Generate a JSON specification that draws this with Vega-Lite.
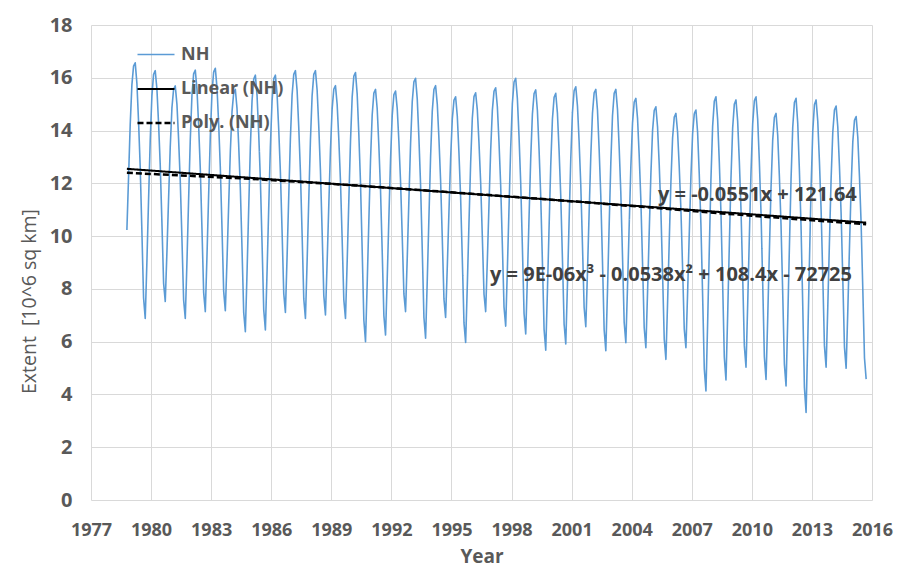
{
  "$schema": "https://vega.github.io/schema/vega-lite/v6.json",
  "width": 781,
  "height": 475,
  "autosize": {"type": "none"},
  "padding": {"left": 91, "top": 25, "right": 32, "bottom": 69},
  "background": "white",
  "config": {
    "view": {"stroke": null},
    "font": "Open Sans",
    "axis": {
      "gridColor": "#d9d9d9",
      "gridWidth": 1,
      "domain": false,
      "ticks": false,
      "labelFont": "Open Sans",
      "labelFontWeight": "bold",
      "labelColor": "#595959",
      "titleFont": "Open Sans",
      "titleColor": "#595959"
    }
  },
  "layer": [
    {
      "data": {
        "values": [
          {"s":"NH","t":1978.792,"v":10.23},{"s":"NH","t":1978.875,"v":12.22},{"s":"NH","t":1978.958,"v":14.23},
          {"s":"NH","t":1979.042,"v":15.73},{"s":"NH","t":1979.125,"v":16.44},{"s":"NH","t":1979.208,"v":16.57},{"s":"NH","t":1979.292,"v":15.79},{"s":"NH","t":1979.375,"v":14.34},{"s":"NH","t":1979.458,"v":12.60},{"s":"NH","t":1979.542,"v":10.17},{"s":"NH","t":1979.625,"v":7.66},{"s":"NH","t":1979.708,"v":6.88},{"s":"NH","t":1979.792,"v":9.04},{"s":"NH","t":1979.875,"v":11.39},{"s":"NH","t":1979.958,"v":13.64},
          {"s":"NH","t":1980.042,"v":15.33},{"s":"NH","t":1980.125,"v":16.13},{"s":"NH","t":1980.208,"v":16.27},{"s":"NH","t":1980.292,"v":15.57},{"s":"NH","t":1980.375,"v":14.26},{"s":"NH","t":1980.458,"v":12.68},{"s":"NH","t":1980.542,"v":10.50},{"s":"NH","t":1980.625,"v":8.22},{"s":"NH","t":1980.708,"v":7.52},{"s":"NH","t":1980.792,"v":9.40},{"s":"NH","t":1980.875,"v":11.44},{"s":"NH","t":1980.958,"v":13.40},
          {"s":"NH","t":1981.042,"v":14.87},{"s":"NH","t":1981.125,"v":15.57},{"s":"NH","t":1981.208,"v":15.69},{"s":"NH","t":1981.292,"v":14.99},{"s":"NH","t":1981.375,"v":13.66},{"s":"NH","t":1981.458,"v":12.08},{"s":"NH","t":1981.542,"v":9.88},{"s":"NH","t":1981.625,"v":7.58},{"s":"NH","t":1981.708,"v":6.88},{"s":"NH","t":1981.792,"v":9.04},{"s":"NH","t":1981.875,"v":11.40},{"s":"NH","t":1981.958,"v":13.66},
          {"s":"NH","t":1982.042,"v":15.35},{"s":"NH","t":1982.125,"v":16.15},{"s":"NH","t":1982.208,"v":16.29},{"s":"NH","t":1982.292,"v":15.56},{"s":"NH","t":1982.375,"v":14.19},{"s":"NH","t":1982.458,"v":12.54},{"s":"NH","t":1982.542,"v":10.25},{"s":"NH","t":1982.625,"v":7.87},{"s":"NH","t":1982.708,"v":7.14},{"s":"NH","t":1982.792,"v":9.26},{"s":"NH","t":1982.875,"v":11.57},{"s":"NH","t":1982.958,"v":13.78},
          {"s":"NH","t":1983.042,"v":15.44},{"s":"NH","t":1983.125,"v":16.22},{"s":"NH","t":1983.208,"v":16.36},{"s":"NH","t":1983.292,"v":15.62},{"s":"NH","t":1983.375,"v":14.25},{"s":"NH","t":1983.458,"v":12.59},{"s":"NH","t":1983.542,"v":10.29},{"s":"NH","t":1983.625,"v":7.91},{"s":"NH","t":1983.708,"v":7.17},{"s":"NH","t":1983.792,"v":9.10},{"s":"NH","t":1983.875,"v":11.20},{"s":"NH","t":1983.958,"v":13.21},
          {"s":"NH","t":1984.042,"v":14.72},{"s":"NH","t":1984.125,"v":15.43},{"s":"NH","t":1984.208,"v":15.56},{"s":"NH","t":1984.292,"v":14.83},{"s":"NH","t":1984.375,"v":13.45},{"s":"NH","t":1984.458,"v":11.80},{"s":"NH","t":1984.542,"v":9.50},{"s":"NH","t":1984.625,"v":7.11},{"s":"NH","t":1984.708,"v":6.38},{"s":"NH","t":1984.792,"v":8.62},{"s":"NH","t":1984.875,"v":11.05},{"s":"NH","t":1984.958,"v":13.38},
          {"s":"NH","t":1985.042,"v":15.13},{"s":"NH","t":1985.125,"v":15.95},{"s":"NH","t":1985.208,"v":16.10},{"s":"NH","t":1985.292,"v":15.33},{"s":"NH","t":1985.375,"v":13.88},{"s":"NH","t":1985.458,"v":12.14},{"s":"NH","t":1985.542,"v":9.72},{"s":"NH","t":1985.625,"v":7.21},{"s":"NH","t":1985.708,"v":6.44},{"s":"NH","t":1985.792,"v":8.66},{"s":"NH","t":1985.875,"v":11.08},{"s":"NH","t":1985.958,"v":13.40},
          {"s":"NH","t":1986.042,"v":15.13},{"s":"NH","t":1986.125,"v":15.96},{"s":"NH","t":1986.208,"v":16.10},{"s":"NH","t":1986.292,"v":15.38},{"s":"NH","t":1986.375,"v":14.03},{"s":"NH","t":1986.458,"v":12.41},{"s":"NH","t":1986.542,"v":10.17},{"s":"NH","t":1986.625,"v":7.83},{"s":"NH","t":1986.708,"v":7.11},{"s":"NH","t":1986.792,"v":9.22},{"s":"NH","t":1986.875,"v":11.51},{"s":"NH","t":1986.958,"v":13.71},
          {"s":"NH","t":1987.042,"v":15.35},{"s":"NH","t":1987.125,"v":16.13},{"s":"NH","t":1987.208,"v":16.27},{"s":"NH","t":1987.292,"v":15.52},{"s":"NH","t":1987.375,"v":14.11},{"s":"NH","t":1987.458,"v":12.42},{"s":"NH","t":1987.542,"v":10.07},{"s":"NH","t":1987.625,"v":7.63},{"s":"NH","t":1987.708,"v":6.88},{"s":"NH","t":1987.792,"v":9.04},{"s":"NH","t":1987.875,"v":11.39},{"s":"NH","t":1987.958,"v":13.64},
          {"s":"NH","t":1988.042,"v":15.33},{"s":"NH","t":1988.125,"v":16.13},{"s":"NH","t":1988.208,"v":16.27},{"s":"NH","t":1988.292,"v":15.53},{"s":"NH","t":1988.375,"v":14.14},{"s":"NH","t":1988.458,"v":12.47},{"s":"NH","t":1988.542,"v":10.16},{"s":"NH","t":1988.625,"v":7.75},{"s":"NH","t":1988.708,"v":7.01},{"s":"NH","t":1988.792,"v":9.01},{"s":"NH","t":1988.875,"v":11.18},{"s":"NH","t":1988.958,"v":13.27},
          {"s":"NH","t":1989.042,"v":14.83},{"s":"NH","t":1989.125,"v":15.57},{"s":"NH","t":1989.208,"v":15.70},{"s":"NH","t":1989.292,"v":14.99},{"s":"NH","t":1989.375,"v":13.67},{"s":"NH","t":1989.458,"v":12.08},{"s":"NH","t":1989.542,"v":9.88},{"s":"NH","t":1989.625,"v":7.59},{"s":"NH","t":1989.708,"v":6.88},{"s":"NH","t":1989.792,"v":9.02},{"s":"NH","t":1989.875,"v":11.35},{"s":"NH","t":1989.958,"v":13.59},
          {"s":"NH","t":1990.042,"v":15.27},{"s":"NH","t":1990.125,"v":16.06},{"s":"NH","t":1990.208,"v":16.20},{"s":"NH","t":1990.292,"v":15.38},{"s":"NH","t":1990.375,"v":13.85},{"s":"NH","t":1990.458,"v":12.02},{"s":"NH","t":1990.542,"v":9.47},{"s":"NH","t":1990.625,"v":6.82},{"s":"NH","t":1990.708,"v":6.00},{"s":"NH","t":1990.792,"v":8.20},{"s":"NH","t":1990.875,"v":10.59},{"s":"NH","t":1990.958,"v":12.88},
          {"s":"NH","t":1991.042,"v":14.60},{"s":"NH","t":1991.125,"v":15.42},{"s":"NH","t":1991.208,"v":15.56},{"s":"NH","t":1991.292,"v":14.82},{"s":"NH","t":1991.375,"v":13.42},{"s":"NH","t":1991.458,"v":11.74},{"s":"NH","t":1991.542,"v":9.42},{"s":"NH","t":1991.625,"v":6.99},{"s":"NH","t":1991.708,"v":6.25},{"s":"NH","t":1991.792,"v":8.38},{"s":"NH","t":1991.875,"v":10.69},{"s":"NH","t":1991.958,"v":12.91},
          {"s":"NH","t":1992.042,"v":14.58},{"s":"NH","t":1992.125,"v":15.36},{"s":"NH","t":1992.208,"v":15.50},{"s":"NH","t":1992.292,"v":14.83},{"s":"NH","t":1992.375,"v":13.58},{"s":"NH","t":1992.458,"v":12.07},{"s":"NH","t":1992.542,"v":9.98},{"s":"NH","t":1992.625,"v":7.81},{"s":"NH","t":1992.708,"v":7.14},{"s":"NH","t":1992.792,"v":9.17},{"s":"NH","t":1992.875,"v":11.38},{"s":"NH","t":1992.958,"v":13.50},
          {"s":"NH","t":1993.042,"v":15.10},{"s":"NH","t":1993.125,"v":15.85},{"s":"NH","t":1993.208,"v":15.98},{"s":"NH","t":1993.292,"v":15.19},{"s":"NH","t":1993.375,"v":13.71},{"s":"NH","t":1993.458,"v":11.94},{"s":"NH","t":1993.542,"v":9.48},{"s":"NH","t":1993.625,"v":6.92},{"s":"NH","t":1993.708,"v":6.13},{"s":"NH","t":1993.792,"v":8.33},{"s":"NH","t":1993.875,"v":10.72},{"s":"NH","t":1993.958,"v":13.02},
          {"s":"NH","t":1994.042,"v":14.74},{"s":"NH","t":1994.125,"v":15.56},{"s":"NH","t":1994.208,"v":15.70},{"s":"NH","t":1994.292,"v":15.00},{"s":"NH","t":1994.375,"v":13.68},{"s":"NH","t":1994.458,"v":12.10},{"s":"NH","t":1994.542,"v":9.91},{"s":"NH","t":1994.625,"v":7.62},{"s":"NH","t":1994.708,"v":6.92},{"s":"NH","t":1994.792,"v":8.84},{"s":"NH","t":1994.875,"v":10.93},{"s":"NH","t":1994.958,"v":12.94},
          {"s":"NH","t":1995.042,"v":14.44},{"s":"NH","t":1995.125,"v":15.15},{"s":"NH","t":1995.208,"v":15.28},{"s":"NH","t":1995.292,"v":14.54},{"s":"NH","t":1995.375,"v":13.14},{"s":"NH","t":1995.458,"v":11.46},{"s":"NH","t":1995.542,"v":9.14},{"s":"NH","t":1995.625,"v":6.71},{"s":"NH","t":1995.708,"v":5.97},{"s":"NH","t":1995.792,"v":8.15},{"s":"NH","t":1995.875,"v":10.51},{"s":"NH","t":1995.958,"v":12.78},
          {"s":"NH","t":1996.042,"v":14.48},{"s":"NH","t":1996.125,"v":15.29},{"s":"NH","t":1996.208,"v":15.43},{"s":"NH","t":1996.292,"v":14.77},{"s":"NH","t":1996.375,"v":13.52},{"s":"NH","t":1996.458,"v":12.03},{"s":"NH","t":1996.542,"v":9.96},{"s":"NH","t":1996.625,"v":7.80},{"s":"NH","t":1996.708,"v":7.14},{"s":"NH","t":1996.792,"v":9.09},{"s":"NH","t":1996.875,"v":11.21},{"s":"NH","t":1996.958,"v":13.25},
          {"s":"NH","t":1997.042,"v":14.77},{"s":"NH","t":1997.125,"v":15.49},{"s":"NH","t":1997.208,"v":15.62},{"s":"NH","t":1997.292,"v":14.90},{"s":"NH","t":1997.375,"v":13.54},{"s":"NH","t":1997.458,"v":11.92},{"s":"NH","t":1997.542,"v":9.66},{"s":"NH","t":1997.625,"v":7.31},{"s":"NH","t":1997.708,"v":6.59},{"s":"NH","t":1997.792,"v":8.75},{"s":"NH","t":1997.875,"v":11.10},{"s":"NH","t":1997.958,"v":13.35},
          {"s":"NH","t":1998.042,"v":15.04},{"s":"NH","t":1998.125,"v":15.84},{"s":"NH","t":1998.208,"v":15.98},{"s":"NH","t":1998.292,"v":15.20},{"s":"NH","t":1998.375,"v":13.75},{"s":"NH","t":1998.458,"v":12.01},{"s":"NH","t":1998.542,"v":9.58},{"s":"NH","t":1998.625,"v":7.07},{"s":"NH","t":1998.708,"v":6.29},{"s":"NH","t":1998.792,"v":8.42},{"s":"NH","t":1998.875,"v":10.73},{"s":"NH","t":1998.958,"v":12.95},
          {"s":"NH","t":1999.042,"v":14.62},{"s":"NH","t":1999.125,"v":15.40},{"s":"NH","t":1999.208,"v":15.54},{"s":"NH","t":1999.292,"v":14.75},{"s":"NH","t":1999.375,"v":13.27},{"s":"NH","t":1999.458,"v":11.50},{"s":"NH","t":1999.542,"v":9.03},{"s":"NH","t":1999.625,"v":6.47},{"s":"NH","t":1999.708,"v":5.68},{"s":"NH","t":1999.792,"v":7.92},{"s":"NH","t":1999.875,"v":10.35},{"s":"NH","t":1999.958,"v":12.69},
          {"s":"NH","t":2000.042,"v":14.44},{"s":"NH","t":2000.125,"v":15.26},{"s":"NH","t":2000.208,"v":15.41},{"s":"NH","t":2000.292,"v":14.65},{"s":"NH","t":2000.375,"v":13.23},{"s":"NH","t":2000.458,"v":11.52},{"s":"NH","t":2000.542,"v":9.14},{"s":"NH","t":2000.625,"v":6.67},{"s":"NH","t":2000.708,"v":5.91},{"s":"NH","t":2000.792,"v":8.15},{"s":"NH","t":2000.875,"v":10.59},{"s":"NH","t":2000.958,"v":12.93},
          {"s":"NH","t":2001.042,"v":14.69},{"s":"NH","t":2001.125,"v":15.51},{"s":"NH","t":2001.208,"v":15.66},{"s":"NH","t":2001.292,"v":14.93},{"s":"NH","t":2001.375,"v":13.57},{"s":"NH","t":2001.458,"v":11.93},{"s":"NH","t":2001.542,"v":9.66},{"s":"NH","t":2001.625,"v":7.30},{"s":"NH","t":2001.708,"v":6.57},{"s":"NH","t":2001.792,"v":8.64},{"s":"NH","t":2001.875,"v":10.89},{"s":"NH","t":2001.958,"v":13.04},
          {"s":"NH","t":2002.042,"v":14.66},{"s":"NH","t":2002.125,"v":15.43},{"s":"NH","t":2002.208,"v":15.56},{"s":"NH","t":2002.292,"v":14.77},{"s":"NH","t":2002.375,"v":13.28},{"s":"NH","t":2002.458,"v":11.50},{"s":"NH","t":2002.542,"v":9.03},{"s":"NH","t":2002.625,"v":6.45},{"s":"NH","t":2002.708,"v":5.66},{"s":"NH","t":2002.792,"v":7.94},{"s":"NH","t":2002.875,"v":10.41},{"s":"NH","t":2002.958,"v":12.79},
          {"s":"NH","t":2003.042,"v":14.57},{"s":"NH","t":2003.125,"v":15.41},{"s":"NH","t":2003.208,"v":15.56},{"s":"NH","t":2003.292,"v":14.79},{"s":"NH","t":2003.375,"v":13.35},{"s":"NH","t":2003.458,"v":11.62},{"s":"NH","t":2003.542,"v":9.22},{"s":"NH","t":2003.625,"v":6.73},{"s":"NH","t":2003.708,"v":5.96},{"s":"NH","t":2003.792,"v":8.09},{"s":"NH","t":2003.875,"v":10.40},{"s":"NH","t":2003.958,"v":12.63},
          {"s":"NH","t":2004.042,"v":14.29},{"s":"NH","t":2004.125,"v":15.08},{"s":"NH","t":2004.208,"v":15.22},{"s":"NH","t":2004.292,"v":14.46},{"s":"NH","t":2004.375,"v":13.05},{"s":"NH","t":2004.458,"v":11.35},{"s":"NH","t":2004.542,"v":8.98},{"s":"NH","t":2004.625,"v":6.53},{"s":"NH","t":2004.708,"v":5.77},{"s":"NH","t":2004.792,"v":7.87},{"s":"NH","t":2004.875,"v":10.15},{"s":"NH","t":2004.958,"v":12.34},
          {"s":"NH","t":2005.042,"v":13.99},{"s":"NH","t":2005.125,"v":14.76},{"s":"NH","t":2005.208,"v":14.90},{"s":"NH","t":2005.292,"v":14.13},{"s":"NH","t":2005.375,"v":12.70},{"s":"NH","t":2005.458,"v":10.98},{"s":"NH","t":2005.542,"v":8.58},{"s":"NH","t":2005.625,"v":6.10},{"s":"NH","t":2005.708,"v":5.33},{"s":"NH","t":2005.792,"v":7.47},{"s":"NH","t":2005.875,"v":9.80},{"s":"NH","t":2005.958,"v":12.04},
          {"s":"NH","t":2006.042,"v":13.72},{"s":"NH","t":2006.125,"v":14.51},{"s":"NH","t":2006.208,"v":14.65},{"s":"NH","t":2006.292,"v":13.94},{"s":"NH","t":2006.375,"v":12.61},{"s":"NH","t":2006.458,"v":11.01},{"s":"NH","t":2006.542,"v":8.79},{"s":"NH","t":2006.625,"v":6.48},{"s":"NH","t":2006.708,"v":5.77},{"s":"NH","t":2006.792,"v":7.84},{"s":"NH","t":2006.875,"v":10.09},{"s":"NH","t":2006.958,"v":12.26},
          {"s":"NH","t":2007.042,"v":13.88},{"s":"NH","t":2007.125,"v":14.64},{"s":"NH","t":2007.208,"v":14.78},{"s":"NH","t":2007.292,"v":13.93},{"s":"NH","t":2007.375,"v":12.33},{"s":"NH","t":2007.458,"v":10.41},{"s":"NH","t":2007.542,"v":7.75},{"s":"NH","t":2007.625,"v":4.98},{"s":"NH","t":2007.708,"v":4.13},{"s":"NH","t":2007.792,"v":6.69},{"s":"NH","t":2007.875,"v":9.48},{"s":"NH","t":2007.958,"v":12.16},
          {"s":"NH","t":2008.042,"v":14.17},{"s":"NH","t":2008.125,"v":15.11},{"s":"NH","t":2008.208,"v":15.28},{"s":"NH","t":2008.292,"v":14.42},{"s":"NH","t":2008.375,"v":12.81},{"s":"NH","t":2008.458,"v":10.88},{"s":"NH","t":2008.542,"v":8.20},{"s":"NH","t":2008.625,"v":5.41},{"s":"NH","t":2008.708,"v":4.55},{"s":"NH","t":2008.792,"v":6.99},{"s":"NH","t":2008.875,"v":9.64},{"s":"NH","t":2008.958,"v":12.19},
          {"s":"NH","t":2009.042,"v":14.10},{"s":"NH","t":2009.125,"v":15.00},{"s":"NH","t":2009.208,"v":15.16},{"s":"NH","t":2009.292,"v":14.35},{"s":"NH","t":2009.375,"v":12.83},{"s":"NH","t":2009.458,"v":11.01},{"s":"NH","t":2009.542,"v":8.47},{"s":"NH","t":2009.625,"v":5.84},{"s":"NH","t":2009.708,"v":5.03},{"s":"NH","t":2009.792,"v":7.39},{"s":"NH","t":2009.875,"v":9.95},{"s":"NH","t":2009.958,"v":12.41},
          {"s":"NH","t":2010.042,"v":14.26},{"s":"NH","t":2010.125,"v":15.13},{"s":"NH","t":2010.208,"v":15.28},{"s":"NH","t":2010.292,"v":14.42},{"s":"NH","t":2010.375,"v":12.82},{"s":"NH","t":2010.458,"v":10.89},{"s":"NH","t":2010.542,"v":8.21},{"s":"NH","t":2010.625,"v":5.43},{"s":"NH","t":2010.708,"v":4.57},{"s":"NH","t":2010.792,"v":6.89},{"s":"NH","t":2010.875,"v":9.41},{"s":"NH","t":2010.958,"v":11.83},
          {"s":"NH","t":2011.042,"v":13.64},{"s":"NH","t":2011.125,"v":14.50},{"s":"NH","t":2011.208,"v":14.65},{"s":"NH","t":2011.292,"v":13.82},{"s":"NH","t":2011.375,"v":12.27},{"s":"NH","t":2011.458,"v":10.41},{"s":"NH","t":2011.542,"v":7.83},{"s":"NH","t":2011.625,"v":5.15},{"s":"NH","t":2011.708,"v":4.32},{"s":"NH","t":2011.792,"v":6.83},{"s":"NH","t":2011.875,"v":9.55},{"s":"NH","t":2011.958,"v":12.17},
          {"s":"NH","t":2012.042,"v":14.13},{"s":"NH","t":2012.125,"v":15.06},{"s":"NH","t":2012.208,"v":15.22},{"s":"NH","t":2012.292,"v":14.27},{"s":"NH","t":2012.375,"v":12.48},{"s":"NH","t":2012.458,"v":10.34},{"s":"NH","t":2012.542,"v":7.37},{"s":"NH","t":2012.625,"v":4.27},{"s":"NH","t":2012.708,"v":3.32},{"s":"NH","t":2012.792,"v":6.04},{"s":"NH","t":2012.875,"v":9.00},{"s":"NH","t":2012.958,"v":11.84},
          {"s":"NH","t":2013.042,"v":13.98},{"s":"NH","t":2013.125,"v":14.98},{"s":"NH","t":2013.208,"v":15.16},{"s":"NH","t":2013.292,"v":14.35},{"s":"NH","t":2013.375,"v":12.83},{"s":"NH","t":2013.458,"v":11.01},{"s":"NH","t":2013.542,"v":8.47},{"s":"NH","t":2013.625,"v":5.84},{"s":"NH","t":2013.708,"v":5.03},{"s":"NH","t":2013.792,"v":7.31},{"s":"NH","t":2013.875,"v":9.78},{"s":"NH","t":2013.958,"v":12.16},
          {"s":"NH","t":2014.042,"v":13.94},{"s":"NH","t":2014.125,"v":14.78},{"s":"NH","t":2014.208,"v":14.93},{"s":"NH","t":2014.292,"v":14.13},{"s":"NH","t":2014.375,"v":12.64},{"s":"NH","t":2014.458,"v":10.85},{"s":"NH","t":2014.542,"v":8.37},{"s":"NH","t":2014.625,"v":5.79},{"s":"NH","t":2014.708,"v":4.99},{"s":"NH","t":2014.792,"v":7.18},{"s":"NH","t":2014.875,"v":9.57},{"s":"NH","t":2014.958,"v":11.86},
          {"s":"NH","t":2015.042,"v":13.58},{"s":"NH","t":2015.125,"v":14.39},{"s":"NH","t":2015.208,"v":14.53},{"s":"NH","t":2015.292,"v":13.73},{"s":"NH","t":2015.375,"v":12.24},{"s":"NH","t":2015.458,"v":10.45},{"s":"NH","t":2015.542,"v":7.96},{"s":"NH","t":2015.625,"v":5.38},{"s":"NH","t":2015.708,"v":4.58},
          {"s":"Linear (NH)","t":1978.792,"v":12.55},{"s":"Linear (NH)","t":2015.708,"v":10.51},
          {"s":"Poly. (NH)","t":1978.792,"v":12.40},{"s":"Poly. (NH)","t":1985,"v":12.17},{"s":"Poly. (NH)","t":1990,"v":11.93},{"s":"Poly. (NH)","t":1995,"v":11.66},{"s":"Poly. (NH)","t":2000,"v":11.38},{"s":"Poly. (NH)","t":2005,"v":11.08},{"s":"Poly. (NH)","t":2010,"v":10.77},{"s":"Poly. (NH)","t":2015.708,"v":10.45}
        ]
      },
      "mark": {"type": "line", "strokeJoin": "round"},
      "encoding": {
        "x": {
          "field": "t", "type": "quantitative",
          "scale": {"domain": [1977, 2016], "nice": false, "zero": false},
          "axis": {
            "values": [1977, 1980, 1983, 1986, 1989, 1992, 1995, 1998, 2001, 2004, 2007, 2010, 2013, 2016],
            "format": "d",
            "labelFontSize": 18,
            "labelFlush": false,
            "labelPadding": 21,
            "title": "Year",
            "titleFontSize": 19,
            "titleFontWeight": "bold",
            "titlePadding": 8
          }
        },
        "y": {
          "field": "v", "type": "quantitative",
          "scale": {"domain": [0, 18], "nice": false},
          "axis": {
            "values": [0, 2, 4, 6, 8, 10, 12, 14, 16, 18],
            "labelFontSize": 20,
            "labelPadding": 19,
            "title": "Extent \u00a0[10^6 sq km]",
            "titleFontSize": 19.5,
            "titleFontWeight": "normal",
            "titleX": -62,
            "titleY": 276,
            "titleAngle": -90,
            "titleAlign": "center",
            "titleBaseline": "middle"
          }
        },
        "color": {
          "field": "s", "type": "nominal",
          "scale": {"domain": ["NH", "Linear (NH)", "Poly. (NH)"], "range": ["#5b9bd5", "#000000", "#000000"]},
          "legend": {
            "title": null,
            "orient": "none",
            "legendX": 45,
            "legendY": 10,
            "symbolType": "stroke",
            "symbolSize": 1369,
            "labelFont": "Open Sans",
            "labelFontSize": 18,
            "labelFontWeight": "bold",
            "labelColor": "#595959",
            "labelOffset": 5,
            "rowPadding": 5,
            "padding": 0
          }
        },
        "strokeDash": {
          "field": "s", "type": "nominal",
          "scale": {"domain": ["NH", "Linear (NH)", "Poly. (NH)"], "range": [[1, 0], [1, 0], [6, 3]]},
          "legend": null
        },
        "strokeWidth": {
          "field": "s", "type": "nominal",
          "scale": {"domain": ["NH", "Linear (NH)", "Poly. (NH)"], "range": [1.6, 2.5, 2.5]},
          "legend": null
        }
      }
    },
    {
      "data": {
        "values": [
          {"t": 2015.24, "v": 11.56, "label": "y = -0.0551x + 121.64"},
          {"t": 2015.0, "v": 8.53, "label": "y = 9E-06x³ - 0.0538x² + 108.4x - 72725"}
        ]
      },
      "mark": {"type": "text", "align": "right", "baseline": "middle", "font": "Open Sans", "fontSize": 20, "fontWeight": "bold", "color": "#404040"},
      "encoding": {
        "x": {"field": "t", "type": "quantitative"},
        "y": {"field": "v", "type": "quantitative"},
        "text": {"field": "label"}
      }
    }
  ]
}
